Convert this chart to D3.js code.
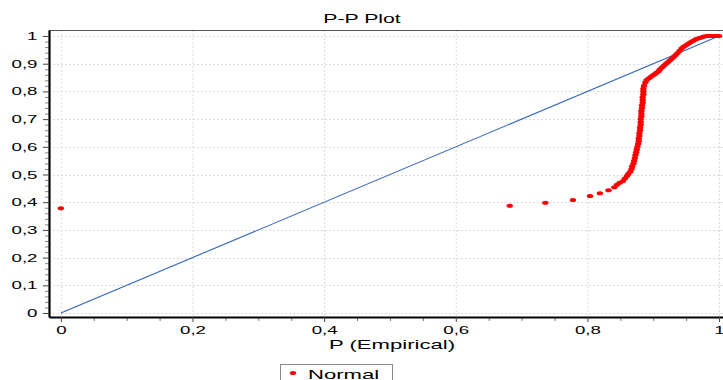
<!DOCTYPE html>
<html>
<head>
<meta charset="utf-8">
<script src="https://cdn.jsdelivr.net/npm/d3@7/dist/d3.min.js"></script>
<style>
  html, body { margin: 0; padding: 0; background: #fff; }
  svg { display: block; font-family: "Liberation Sans", Arial, sans-serif; }
</style>
</head>
<body>
<div id="chart"></div>
<script>
// P-P plot: empirical vs theoretical cumulative probabilities
const pEmpirical = [
  0.000, 0.682, 0.736, 0.778, 0.804, 0.819, 0.832, 0.841, 0.845, 0.849,
  0.854, 0.857, 0.860, 0.862, 0.865,
  0.867, 0.868, 0.870, 0.871, 0.872, 0.873, 0.874, 0.875, 0.876, 0.877,
  0.878, 0.878, 0.879, 0.879, 0.880, 0.880, 0.881, 0.881, 0.881, 0.882,
  0.882, 0.882, 0.883, 0.883, 0.884, 0.884, 0.884, 0.885, 0.885, 0.885,
  0.886, 0.888,
  0.890, 0.893, 0.896, 0.899, 0.902, 0.905, 0.908, 0.910, 0.913, 0.916,
  0.919, 0.922, 0.925, 0.928, 0.931, 0.934, 0.937, 0.940, 0.943, 0.946,
  0.949, 0.952, 0.955, 0.958, 0.961, 0.964, 0.967, 0.970, 0.973, 0.976,
  0.979, 0.982, 0.986, 0.990, 0.994, 0.997, 1.000
];
const pTheoretical = [
  0.378, 0.387, 0.398, 0.408, 0.422, 0.432, 0.443, 0.454, 0.463, 0.470,
  0.477, 0.486, 0.495, 0.502, 0.510,
  0.520, 0.530, 0.540, 0.550, 0.560, 0.570, 0.580, 0.590, 0.600, 0.610,
  0.620, 0.630, 0.640, 0.650, 0.660, 0.670, 0.680, 0.690, 0.700, 0.710,
  0.720, 0.730, 0.740, 0.750, 0.760, 0.770, 0.780, 0.790, 0.800, 0.810,
  0.820, 0.832,
  0.841, 0.847, 0.852, 0.857, 0.862, 0.867, 0.873, 0.879, 0.886, 0.893,
  0.899, 0.905, 0.912, 0.918, 0.924, 0.931, 0.939, 0.947, 0.955, 0.961,
  0.966, 0.970, 0.975, 0.979, 0.983, 0.987, 0.990, 0.993, 0.995, 0.997,
  0.999, 1.000, 1.000, 1.000, 1.000, 1.000, 1.000
];
const refLine = [[0, 0], [1, 1]];
const xMajor = [0, 0.2, 0.4, 0.6, 0.8, 1];
const yMajor = [0, 0.1, 0.2, 0.3, 0.4, 0.5, 0.6, 0.7, 0.8, 0.9, 1];
const seriesName = 'Normal';
const chartTitle = 'P-P Plot';
const xTitle = 'P (Empirical)';

const width = 723, height = 380;
const stretch = 1.7; // text in the reference is stretched horizontally
const fmt = d => d3.format('')(+d.toFixed(2)).replace('.', ',');

const svg = d3.select('#chart').append('svg')
  .attr('width', width)
  .attr('height', height);

const x = d3.scaleLinear().domain([-0.018, 1.006]).range([49, 723]);
const y = d3.scaleLinear().domain([-0.0144, 1.0217]).range([317, 30]);

// grid
const grid = svg.append('g').attr('stroke', '#dcdcdc').attr('stroke-dasharray', '2,2');
grid.selectAll('.gx').data(xMajor).enter().append('line')
  .attr('x1', d => x(d) + 0.5).attr('x2', d => x(d) + 0.5)
  .attr('y1', 30).attr('y2', 317);
grid.selectAll('.gy').data(yMajor).enter().append('line')
  .attr('x1', 49).attr('x2', 723)
  .attr('y1', d => Math.round(y(d)) + 0.5).attr('y2', d => Math.round(y(d)) + 0.5);

// top border
svg.append('line')
  .attr('x1', 49).attr('x2', 723).attr('y1', 30.5).attr('y2', 30.5)
  .attr('stroke', '#555').attr('stroke-width', 1.2);

// minor ticks
const xMinor = d3.range(0, 21).map(i => i * 0.05).filter(v => Math.abs(v * 5 - Math.round(v * 5)) > 1e-6);
const yMinor = d3.range(0, 51).map(i => i * 0.02).filter(v => Math.abs(v * 10 - Math.round(v * 10)) > 1e-6);

svg.append('g')
  .attr('transform', 'translate(0,317)')
  .call(d3.axisBottom(x).tickValues(xMinor).tickFormat('').tickSize(4).tickSizeOuter(0))
  .call(g => g.select('.domain').remove())
  .selectAll('line').attr('stroke', '#777');

svg.append('g')
  .attr('transform', 'translate(49,0)')
  .call(d3.axisLeft(y).tickValues(yMinor).tickFormat('').tickSize(4).tickSizeOuter(0))
  .call(g => g.select('.domain').remove())
  .selectAll('line').attr('stroke', '#888');

// major axes
const xAxis = svg.append('g')
  .attr('transform', 'translate(0,317)')
  .call(d3.axisBottom(x).tickValues(xMajor).tickFormat(fmt).tickSize(5).tickSizeOuter(0));
xAxis.select('.domain').attr('stroke', '#000').attr('stroke-width', 2.2);
xAxis.selectAll('.tick line').attr('stroke', '#444');
xAxis.selectAll('text')
  .attr('font-size', 11).attr('fill', '#000')
  .attr('y', 9)
  .attr('transform', `scale(${stretch},1)`);

const yAxis = svg.append('g')
  .attr('transform', 'translate(49,0)')
  .call(d3.axisLeft(y).tickValues(yMajor).tickFormat(fmt).tickSize(6).tickSizeOuter(0));
yAxis.select('.domain').attr('stroke', '#000').attr('stroke-width', 2.2);
yAxis.selectAll('.tick line').attr('stroke', '#444');
yAxis.selectAll('text')
  .attr('font-size', 11).attr('fill', '#000')
  .attr('x', -11.5 / stretch)
  .attr('transform', `scale(${stretch},1)`);

// reference line
svg.append('path')
  .datum(refLine)
  .attr('fill', 'none')
  .attr('stroke', '#2e62c0')
  .attr('stroke-width', 1.1)
  .attr('d', d3.line().x(d => x(d[0])).y(d => y(d[1])));

// points
svg.append('g')
  .selectAll('ellipse')
  .data(pEmpirical.map((p, i) => [p, pTheoretical[i]]))
  .enter()
  .append('ellipse')
  .attr('cx', d => x(d[0]))
  .attr('cy', d => y(d[1]))
  .attr('rx', 3.2)
  .attr('ry', 2)
  .attr('fill', '#ff0000');

// titles
function stretchedText(tx, ty, txt, size, anchor) {
  svg.append('g')
    .attr('transform', `translate(${tx},${ty}) scale(${stretch},1)`)
    .append('text')
    .attr('text-anchor', anchor)
    .attr('font-size', size)
    .attr('fill', '#000')
    .text(txt);
}
stretchedText(362, 23, chartTitle, 12.5, 'middle');
stretchedText(392, 349, xTitle, 13, 'middle');

// legend
const legend = svg.append('g');
legend.append('rect')
  .attr('x', 280.5).attr('y', 364.5)
  .attr('width', 112).attr('height', 22)
  .attr('fill', '#fff').attr('stroke', '#8a8a8a');
legend.append('ellipse')
  .attr('cx', 293).attr('cy', 373)
  .attr('rx', 3.2).attr('ry', 2)
  .attr('fill', '#ff0000');
stretchedText(308, 379, seriesName, 13, 'start');
</script>
</body>
</html>
